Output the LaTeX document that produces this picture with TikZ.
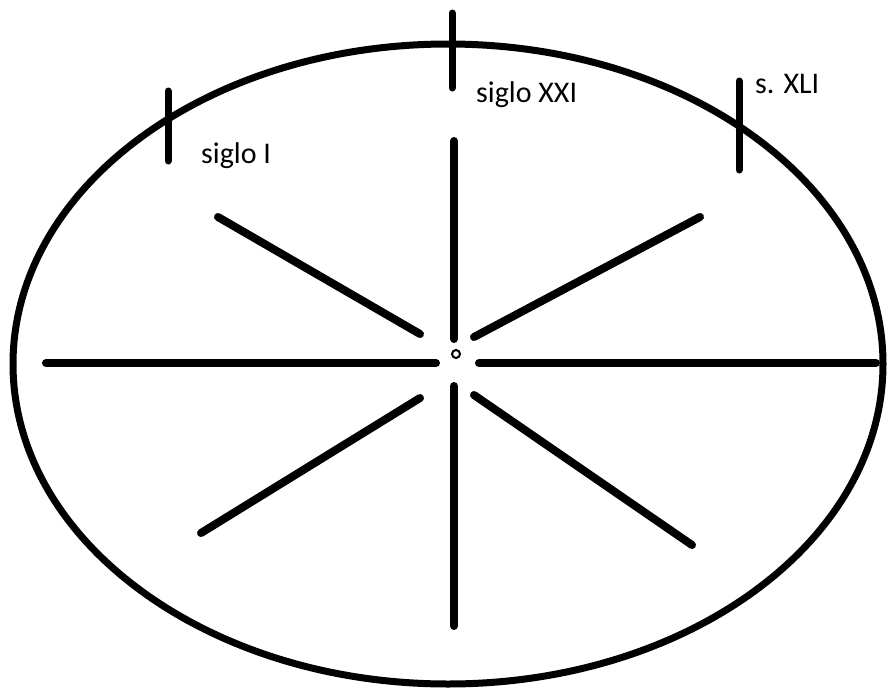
\documentclass[tikz,border=0pt]{standalone}
\usepackage{fontspec}
\setmainfont{Carlito}
\begin{document}
\begin{tikzpicture}[x=1pt,y=-1pt,
  spoke/.style={line width=8pt,line cap=round},
  tickmark/.style={line width=7pt,line cap=round},
  lbl/.style={anchor=base west,inner sep=0pt,font=\fontsize{30}{33}\selectfont}]
\useasboundingbox (0,0) rectangle (887,689);
\coordinate (c) at (448,364);
\draw[line width=7pt] (c) ellipse [x radius=435, y radius=320];
\node[circle,draw,line width=2pt,minimum size=8pt,inner sep=0pt] (hub) at (456,354) {};
% spokes
\coordinate (u1) at (454,141); \coordinate (u2) at (454,339);
\coordinate (d1) at (454,386); \coordinate (d2) at (454,626);
\coordinate (l1) at (46,363); \coordinate (l2) at (436,363);
\coordinate (r1) at (479,363); \coordinate (r2) at (876,363);
\coordinate (ul1) at (218,217); \coordinate (ul2) at (420,334);
\coordinate (ur1) at (474,337); \coordinate (ur2) at (700,217);
\coordinate (dl1) at (201,533); \coordinate (dl2) at (420,398);
\coordinate (dr1) at (474,395); \coordinate (dr2) at (692,545);
\foreach \a/\b in {u1/u2,d1/d2,l1/l2,r1/r2,ul1/ul2,ur1/ur2,dl1/dl2,dr1/dr2}
  \draw[spoke] (\a) -- (\b);
% ticks
\coordinate (t1a) at (168,91); \coordinate (t1b) at (168,161);
\coordinate (t2a) at (452,13); \coordinate (t2b) at (452,88);
\coordinate (t3a) at (739,81); \coordinate (t3b) at (739,170);
\draw[tickmark] (t1a) -- (t1b);
\draw[tickmark] (t2a) -- (t2b);
\draw[tickmark] (t3a) -- (t3b);
% labels
\node[lbl] (s1) at (201,163) {siglo I};
\node[lbl] (s2) at (476,102) {siglo XXI};
\node[lbl] (s3) at (755,93) {s. XLI};
\end{tikzpicture}
\end{document}
